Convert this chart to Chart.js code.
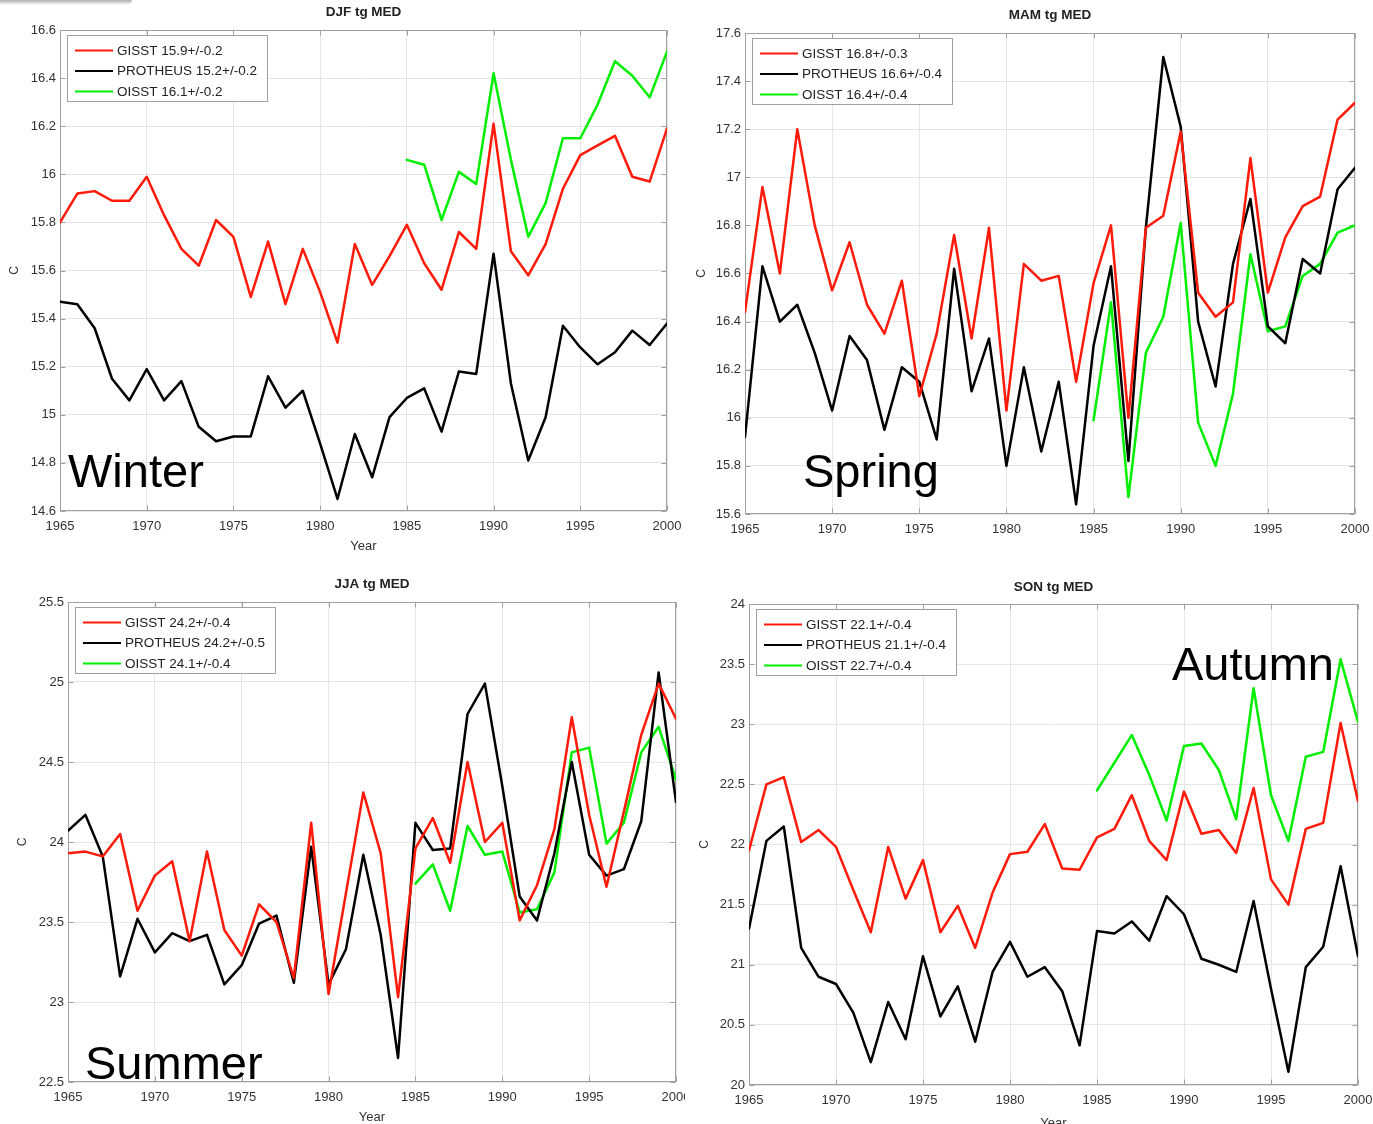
<!DOCTYPE html>
<html>
<head>
<meta charset="utf-8">
<script src="https://cdn.jsdelivr.net/npm/chart.js@4.4.1/dist/chart.umd.min.js"></script>
<style>
html,body{margin:0;padding:0;background:#fff;width:1373px;height:1124px;overflow:hidden;position:relative;}
.panel{position:absolute;overflow:hidden;}
.panel canvas{position:absolute;left:0;top:0;}
#shadow{position:absolute;left:0;top:0;width:132px;height:5px;background:linear-gradient(to bottom,rgba(0,0,0,0.32),rgba(0,0,0,0));border-bottom-right-radius:5px;}
</style>
</head>
<body>
<div id="shadow"></div>
<script>
// ---------------- DATA ----------------
const years = [1965,1966,1967,1968,1969,1970,1971,1972,1973,1974,1975,1976,1977,1978,1979,1980,1981,1982,1983,1984,1985,1986,1987,1988,1989,1990,1991,1992,1993,1994,1995,1996,1997,1998,1999,2000];
const oisstYears = [1985,1986,1987,1988,1989,1990,1991,1992,1993,1994,1995,1996,1997,1998,1999,2000];
const xTickValues = [1965,1970,1975,1980,1985,1990,1995,2000];

const winterGISST = [15.80,15.92,15.93,15.89,15.89,15.99,15.83,15.69,15.62,15.81,15.74,15.49,15.72,15.46,15.69,15.51,15.30,15.71,15.54,15.66,15.79,15.63,15.52,15.76,15.69,16.21,15.68,15.58,15.71,15.94,16.08,16.12,16.16,15.99,15.97,16.19];
const winterPROTHEUS = [15.47,15.46,15.36,15.15,15.06,15.19,15.06,15.14,14.95,14.89,14.91,14.91,15.16,15.03,15.10,14.88,14.65,14.92,14.74,14.99,15.07,15.11,14.93,15.18,15.17,15.67,15.13,14.81,14.99,15.37,15.28,15.21,15.26,15.35,15.29,15.38];
const winterOISST = [16.06,16.04,15.81,16.01,15.96,16.42,16.06,15.74,15.88,16.15,16.15,16.29,16.47,16.41,16.32,16.51];
const winterYTicks = [14.6,14.8,15.0,15.2,15.4,15.6,15.8,16.0,16.2,16.4,16.6];
const winterLegend = ['GISST 15.9+/-0.2','PROTHEUS 15.2+/-0.2','OISST 16.1+/-0.2'];

const springGISST = [16.44,16.96,16.60,17.20,16.80,16.53,16.73,16.47,16.35,16.57,16.09,16.35,16.76,16.33,16.79,16.03,16.64,16.57,16.59,16.15,16.56,16.80,16.00,16.79,16.84,17.19,16.52,16.42,16.48,17.08,16.52,16.75,16.88,16.92,17.24,17.31];
const springPROTHEUS = [15.92,16.63,16.40,16.47,16.27,16.03,16.34,16.24,15.95,16.21,16.15,15.91,16.62,16.11,16.33,15.80,16.21,15.86,16.15,15.64,16.30,16.63,15.82,16.79,17.50,17.21,16.40,16.13,16.64,16.91,16.38,16.31,16.66,16.60,16.95,17.04];
const springOISST = [15.99,16.48,15.67,16.27,16.42,16.81,15.98,15.80,16.10,16.68,16.36,16.38,16.59,16.64,16.77,16.80];
const springYTicks = [15.6,15.8,16.0,16.2,16.4,16.6,16.8,17.0,17.2,17.4,17.6];
const springLegend = ['GISST 16.8+/-0.3','PROTHEUS 16.6+/-0.4','OISST 16.4+/-0.4'];

const summerGISST = [23.93,23.94,23.91,24.05,23.57,23.79,23.88,23.38,23.94,23.45,23.29,23.61,23.50,23.15,24.12,23.05,23.68,24.31,23.93,23.03,23.96,24.15,23.87,24.50,24.00,24.12,23.51,23.73,24.08,24.78,24.17,23.72,24.19,24.67,24.99,24.77];
const summerPROTHEUS = [24.07,24.17,23.91,23.16,23.52,23.31,23.43,23.38,23.42,23.11,23.23,23.49,23.54,23.12,23.97,23.11,23.33,23.92,23.42,22.65,24.12,23.95,23.96,24.80,24.99,24.35,23.66,23.51,23.93,24.50,23.92,23.79,23.83,24.13,25.06,24.25];
const summerOISST = [23.74,23.86,23.57,24.10,23.92,23.94,23.56,23.58,23.81,24.56,24.59,23.99,24.12,24.56,24.72,24.39];
const summerYTicks = [22.5,23.0,23.5,24.0,24.5,25.0,25.5];
const summerLegend = ['GISST 24.2+/-0.4','PROTHEUS 24.2+/-0.5','OISST 24.1+/-0.4'];

const autumnGISST = [21.95,22.50,22.56,22.02,22.12,21.98,21.62,21.27,21.98,21.55,21.87,21.27,21.49,21.14,21.60,21.92,21.94,22.17,21.80,21.79,22.06,22.13,22.41,22.03,21.87,22.44,22.09,22.12,21.93,22.47,21.71,21.50,22.13,22.18,23.01,22.36];
const autumnPROTHEUS = [21.30,22.03,22.15,21.14,20.90,20.84,20.60,20.19,20.69,20.38,21.07,20.57,20.82,20.36,20.94,21.19,20.90,20.98,20.78,20.33,21.28,21.26,21.36,21.20,21.57,21.42,21.05,21.00,20.94,21.53,20.80,20.11,20.98,21.15,21.82,21.07];
const autumnOISST = [22.45,22.68,22.91,22.58,22.20,22.82,22.84,22.62,22.21,23.30,22.41,22.03,22.73,22.77,23.54,23.02];
const autumnYTicks = [20.0,20.5,21.0,21.5,22.0,22.5,23.0,23.5,24.0];
const autumnLegend = ['GISST 22.1+/-0.4','PROTHEUS 21.1+/-0.4','OISST 22.7+/-0.4'];

const panelTitles = ['DJF tg MED','MAM tg MED','JJA tg MED','SON tg MED'];
const seasonNames = ['Winter','Spring','Summer','Autumn'];

// ---------------- STYLE / LAYOUT ----------------
const FONT = "'Liberation Sans', Arial, Helvetica, sans-serif";
const COLORS = ['#ff1a0a', '#000000', '#00ee00'];
const AXIS_COLOR = '#a0a0a0';
const TEXT_COLOR = '#333333';

const panels = [
  {box:[0,0,690,565], plot:[60,30,667,511], yTitleX:15, xTitleY:546, titleY:12.5, season:[68,487],
   title:panelTitles[0], name:seasonNames[0], gisst:winterGISST, prot:winterPROTHEUS, oisst:winterOISST, yTicks:winterYTicks, legend:winterLegend},
  {box:[690,0,683,545], plot:[745,33,1355,514], yTitleX:701.5, xTitleY:null, titleY:15, season:[803,487],
   title:panelTitles[1], name:seasonNames[1], gisst:springGISST, prot:springPROTHEUS, oisst:springOISST, yTicks:springYTicks, legend:springLegend},
  {box:[0,565,685,559], plot:[68,602,676,1082], yTitleX:23, xTitleY:1117, titleY:584, season:[85,1079],
   title:panelTitles[2], name:seasonNames[2], gisst:summerGISST, prot:summerPROTHEUS, oisst:summerOISST, yTicks:summerYTicks, legend:summerLegend},
  {box:[690,565,683,559], plot:[749,604,1358,1085], yTitleX:705, xTitleY:1123, titleY:587, season:[1172,680],
   title:panelTitles[3], name:seasonNames[3], gisst:autumnGISST, prot:autumnPROTHEUS, oisst:autumnOISST, yTicks:autumnYTicks, legend:autumnLegend}
];

function fmt(v){ return String(Math.round(v*10)/10); }

function decorPlugin(p, cx, cy){
  return {
    id:'decor',
    beforeDatasetsDraw(chart){
      const {ctx, chartArea:a, scales} = chart;
      ctx.save();
      ctx.strokeStyle = AXIS_COLOR; ctx.lineWidth = 1;
      const L = Math.round(a.left)+0.5, R = Math.round(a.right)-0.5, T = Math.round(a.top)+0.5, B = Math.round(a.bottom)-0.5;
      ctx.beginPath();
      xTickValues.forEach(v=>{
        const x = Math.round(scales.x.getPixelForValue(v))+0.5;
        ctx.moveTo(x,B); ctx.lineTo(x,B-5);
        ctx.moveTo(x,T); ctx.lineTo(x,T+5);
      });
      p.yTicks.forEach(v=>{
        const y = Math.round(scales.y.getPixelForValue(v))+0.5;
        ctx.moveTo(L,y); ctx.lineTo(L+5,y);
        ctx.moveTo(R,y); ctx.lineTo(R-5,y);
      });
      ctx.stroke();
      ctx.strokeRect(L, T, R-L, B-T);
      ctx.restore();
    },
    afterDraw(chart){
      const {ctx, chartArea:a} = chart;
      ctx.save();
      // panel title
      ctx.fillStyle = '#222';
      ctx.font = 'bold 13.5px ' + FONT;
      ctx.textAlign = 'center'; ctx.textBaseline = 'middle';
      ctx.fillText(p.title, (a.left+a.right)/2, p.titleY - cy);
      // legend
      const bx = Math.round(a.left)+7.5, by = Math.round(a.top)+5.5, bw = 200, bh = 66;
      ctx.fillStyle = '#fff';
      ctx.fillRect(bx, by, bw, bh);
      ctx.strokeStyle = AXIS_COLOR; ctx.lineWidth = 1;
      ctx.strokeRect(bx, by, bw, bh);
      ctx.font = '13.5px ' + FONT;
      ctx.textAlign = 'left'; ctx.textBaseline = 'middle';
      const rows = [15, 35.5, 56];
      p.legend.forEach((t,i)=>{
        const y = by + rows[i];
        ctx.strokeStyle = COLORS[i]; ctx.lineWidth = 2.2;
        ctx.beginPath(); ctx.moveTo(a.left+15, y); ctx.lineTo(a.left+53, y); ctx.stroke();
        ctx.fillStyle = '#222';
        ctx.fillText(t, a.left+57, y+0.5);
      });
      // season label
      ctx.fillStyle = '#000';
      ctx.font = '47px ' + FONT;
      ctx.textAlign = 'left'; ctx.textBaseline = 'alphabetic';
      ctx.fillText(p.name, p.season[0]-cx, p.season[1]-cy);
      ctx.restore();
    }
  };
}

function makePanel(p){
  const [bx,by,bw,bh] = p.box;
  const [L,T,R,B] = p.plot;
  const cont = document.createElement('div');
  cont.className = 'panel';
  cont.style.left = bx+'px'; cont.style.top = by+'px';
  cont.style.width = bw+'px'; cont.style.height = bh+'px';
  document.body.appendChild(cont);
  const cw = R + 38 - bx;
  const ch = (p.xTitleY ? p.xTitleY + 14 : by + bh) - by;
  const cv = document.createElement('canvas');
  cv.width = cw; cv.height = ch;
  cv.style.width = cw+'px'; cv.style.height = ch+'px';
  cont.appendChild(cv);

  const mk = (xs, ys) => xs.map((x,i)=>({x:x, y:ys[i]}));
  const labels = ['GISST','PROTHEUS','OISST'];
  const series = [mk(years,p.gisst), mk(years,p.prot), mk(oisstYears,p.oisst)];

  new Chart(cv, {
    type:'line',
    data:{datasets: series.map((d,i)=>({
      label: p.legend[i] || labels[i], data:d, borderColor:COLORS[i], backgroundColor:COLORS[i],
      borderWidth:2.5, pointRadius:0, tension:0, fill:false, borderJoinStyle:'round', borderCapStyle:'round'
    }))},
    options:{
      responsive:false, animation:false, devicePixelRatio:1,
      layout:{padding:{left:0, top:T-by, right:cw-(R-bx), bottom:0}},
      plugins:{legend:{display:false}, tooltip:{enabled:false}, title:{display:false}},
      scales:{
        x:{
          type:'linear', min:1965, max:2000,
          afterBuildTicks: s => { s.ticks = xTickValues.map(v=>({value:v})); },
          afterFit: s => { s.height = ch - (B-by); },
          ticks:{callback:v=>String(v), font:{family:FONT, size:13}, color:TEXT_COLOR, padding:8, maxRotation:0, autoSkip:false},
          grid:{color:'#e6e6e6', lineWidth:1, drawTicks:false},
          border:{display:false},
          title:{display:!!p.xTitleY, text:'Year', font:{family:FONT, size:13}, color:TEXT_COLOR, padding:{top:0, bottom:6.2}}
        },
        y:{
          type:'linear', min:p.yTicks[0], max:p.yTicks[p.yTicks.length-1],
          afterBuildTicks: s => { s.ticks = p.yTicks.map(v=>({value:v})); },
          afterFit: s => { s.width = L - bx; },
          ticks:{callback:v=>fmt(v), font:{family:FONT, size:13}, color:TEXT_COLOR, padding:4},
          grid:{color:'#e6e6e6', lineWidth:1, drawTicks:false},
          border:{display:false},
          title:{display:true, text:'C', font:{family:FONT, size:12}, color:TEXT_COLOR, padding:{top:Math.max(0,p.yTitleX - bx - 7.2), bottom:0}}
        }
      }
    },
    plugins:[decorPlugin(p, bx, by)]
  });
}

panels.forEach(makePanel);
</script>
</body>
</html>
